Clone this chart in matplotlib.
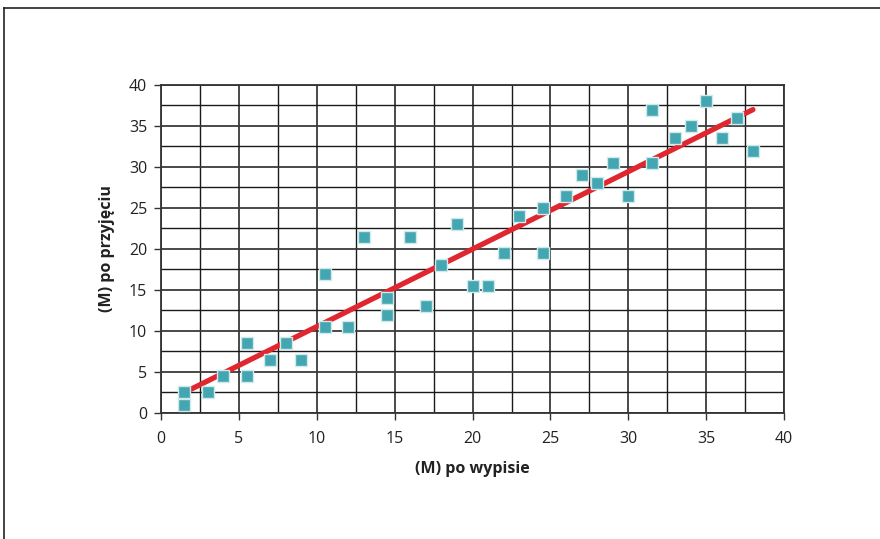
import numpy as np
import matplotlib
matplotlib.use('Agg')
from matplotlib import pyplot as plt
from matplotlib.lines import Line2D

# ################################ DANE ################################
po_wypisie = [1.5, 1.5, 3, 4, 5.5, 5.5, 7, 8, 9, 10.5, 10.5, 12, 13, 14.5, 14.5,
              16, 17, 18, 19, 20, 21, 22, 23, 24.5, 24.5, 26, 27, 28, 29, 30,
              31.5, 31.5, 33, 34, 35, 36, 37, 38]
po_przyjeciu = [2.5, 1, 2.5, 4.5, 4.5, 8.5, 6.5, 8.5, 6.5, 10.5, 17, 10.5, 21.5, 14, 12,
                21.5, 13, 18, 23, 15.5, 15.5, 19.5, 24, 25, 19.5, 26.5, 29, 28, 30.5, 26.5,
                30.5, 37, 33.5, 35, 38, 33.5, 36, 32]

trend_x = [1.5, 38]
trend_y = [2.5, 37]

major_ticks = [0, 5, 10, 15, 20, 25, 30, 35, 40]
minor_ticks = [2.5, 7.5, 12.5, 17.5, 22.5, 27.5, 32.5, 37.5]

# ################################ WYKRES ##############################
plt.rcParams['font.family'] = ['Open Sans', 'DejaVu Sans']

fig = plt.figure(figsize=(8.8, 5.39), dpi=100)
ax = fig.add_axes([0.183, 0.2338, 0.708, 0.6085])

ax.set_xlim(0, 40)
ax.set_ylim(0, 40)
ax.set_xticks(major_ticks)
ax.set_yticks(major_ticks)
ax.set_xticks(minor_ticks, minor=True)
ax.set_yticks(minor_ticks, minor=True)

# siatka
ax.grid(which='major', color='#3a3a3a', linewidth=1.3)
ax.grid(which='minor', color='#1a1a1a', linewidth=1.0)
ax.set_axisbelow(True)

ax.tick_params(which='major', direction='out', length=5, width=1, color='#333333',
               labelsize=11.5, labelcolor='#222222')
ax.tick_params(axis='x', which='major', pad=8)
ax.tick_params(axis='y', which='major', pad=5)
ax.tick_params(which='minor', length=0)
for sp in ax.spines.values():
    sp.set_color('#333333')
    sp.set_linewidth(1.3)

# linia trendu
ax.plot(trend_x, trend_y, color='#e0262e', linewidth=3.8, solid_capstyle='round', zorder=3)

# punkty
ax.plot(po_wypisie, po_przyjeciu, linestyle='none', marker='s', markersize=9,
        markerfacecolor='#44a6b0', markeredgecolor='#cfe9ec', markeredgewidth=1.0, zorder=4)

ax.set_xlabel('(M) po wypisie', fontsize=11.5, fontweight='bold', color='#222222', labelpad=10)
ax.set_ylabel('(M) po przyjęciu', fontsize=11.5, fontweight='bold', color='#222222', labelpad=10)

# ramka
fig.add_artist(Line2D([4 / 880, 1], [1 - 8 / 539, 1 - 8 / 539], color='#222222', linewidth=1.2))
fig.add_artist(Line2D([4 / 880, 4 / 880], [0, 1 - 8 / 539], color='#222222', linewidth=1.2))

fig.savefig('out.png', dpi=100)
